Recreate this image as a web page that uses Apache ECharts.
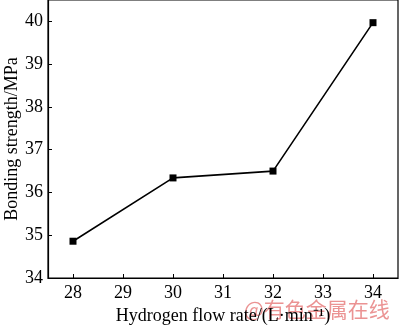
<!DOCTYPE html>
<html><head><meta charset="utf-8">
<script src="https://cdn.jsdelivr.net/npm/echarts@6/dist/echarts.min.js"></script>
<style>html,body{margin:0;padding:0;background:#fff}#c{width:400px;height:326px}</style>
</head><body><div id="c"></div>
<script>
var xValues = [28, 30, 32, 34];
var yValues = [34.86, 36.34, 36.5, 39.97];
var xTicks = [28, 29, 30, 31, 32, 33, 34];
var yTicks = [34, 35, 36, 37, 38, 39, 40];

var chart = echarts.init(document.getElementById('c'));
var font = '"Liberation Serif", "Times New Roman", serif';
chart.setOption({
  animation: false,
  grid: {left: 48, right: 2, top: 0, bottom: 48, show: true, borderColor: '#000', borderWidth: 1.2,
    backgroundColor: 'transparent', containLabel: false, outerBoundsMode: 'none'},
  xAxis: {
    type: 'value', min: 27.5, max: 34.5,
    axisLine: {show: true, lineStyle: {color: '#000', width: 1.2}},
    axisTick: {show: true, inside: true, length: 4, lineStyle: {color: '#000'},
      customValues: xTicks},
    axisLabel: {color: '#000', fontFamily: font, fontSize: 18, margin: 6,
      customValues: xTicks},
    splitLine: {show: false},
    name: 'Hydrogen flow rate/(L\u00b7min\u207b\u00b9)', nameLocation: 'middle', nameGap: 28,
    nameTextStyle: {color: '#000', fontFamily: font, fontSize: 18}
  },
  yAxis: {
    type: 'value', min: 34, max: 40.5,
    axisLine: {show: true, lineStyle: {color: '#000', width: 1.2}},
    axisTick: {show: true, inside: true, length: 4, lineStyle: {color: '#000'}, customValues: yTicks},
    axisLabel: {color: '#000', fontFamily: font, fontSize: 18, margin: 5, customValues: yTicks},
    splitLine: {show: false},
    name: 'Bonding strength/MPa', nameLocation: 'middle', nameGap: 27, nameMoveOverlap: false,
    nameTextStyle: {color: '#000', fontFamily: font, fontSize: 18}
  },
  series: [{
    type: 'line',
    data: xValues.map(function (x, i) { return [x, yValues[i]]; }),
    symbol: 'rect', symbolSize: 7,
    lineStyle: {color: '#000', width: 1.6},
    itemStyle: {color: '#000'}
  }],
  graphic: [{
    type: 'text', left: 244, top: 299,
    style: {text: '@有色金属在线', fill: 'rgba(230,120,120,0.8)', font: '21px "Noto Sans CJK SC"'}
  }]
});
</script></body></html>
